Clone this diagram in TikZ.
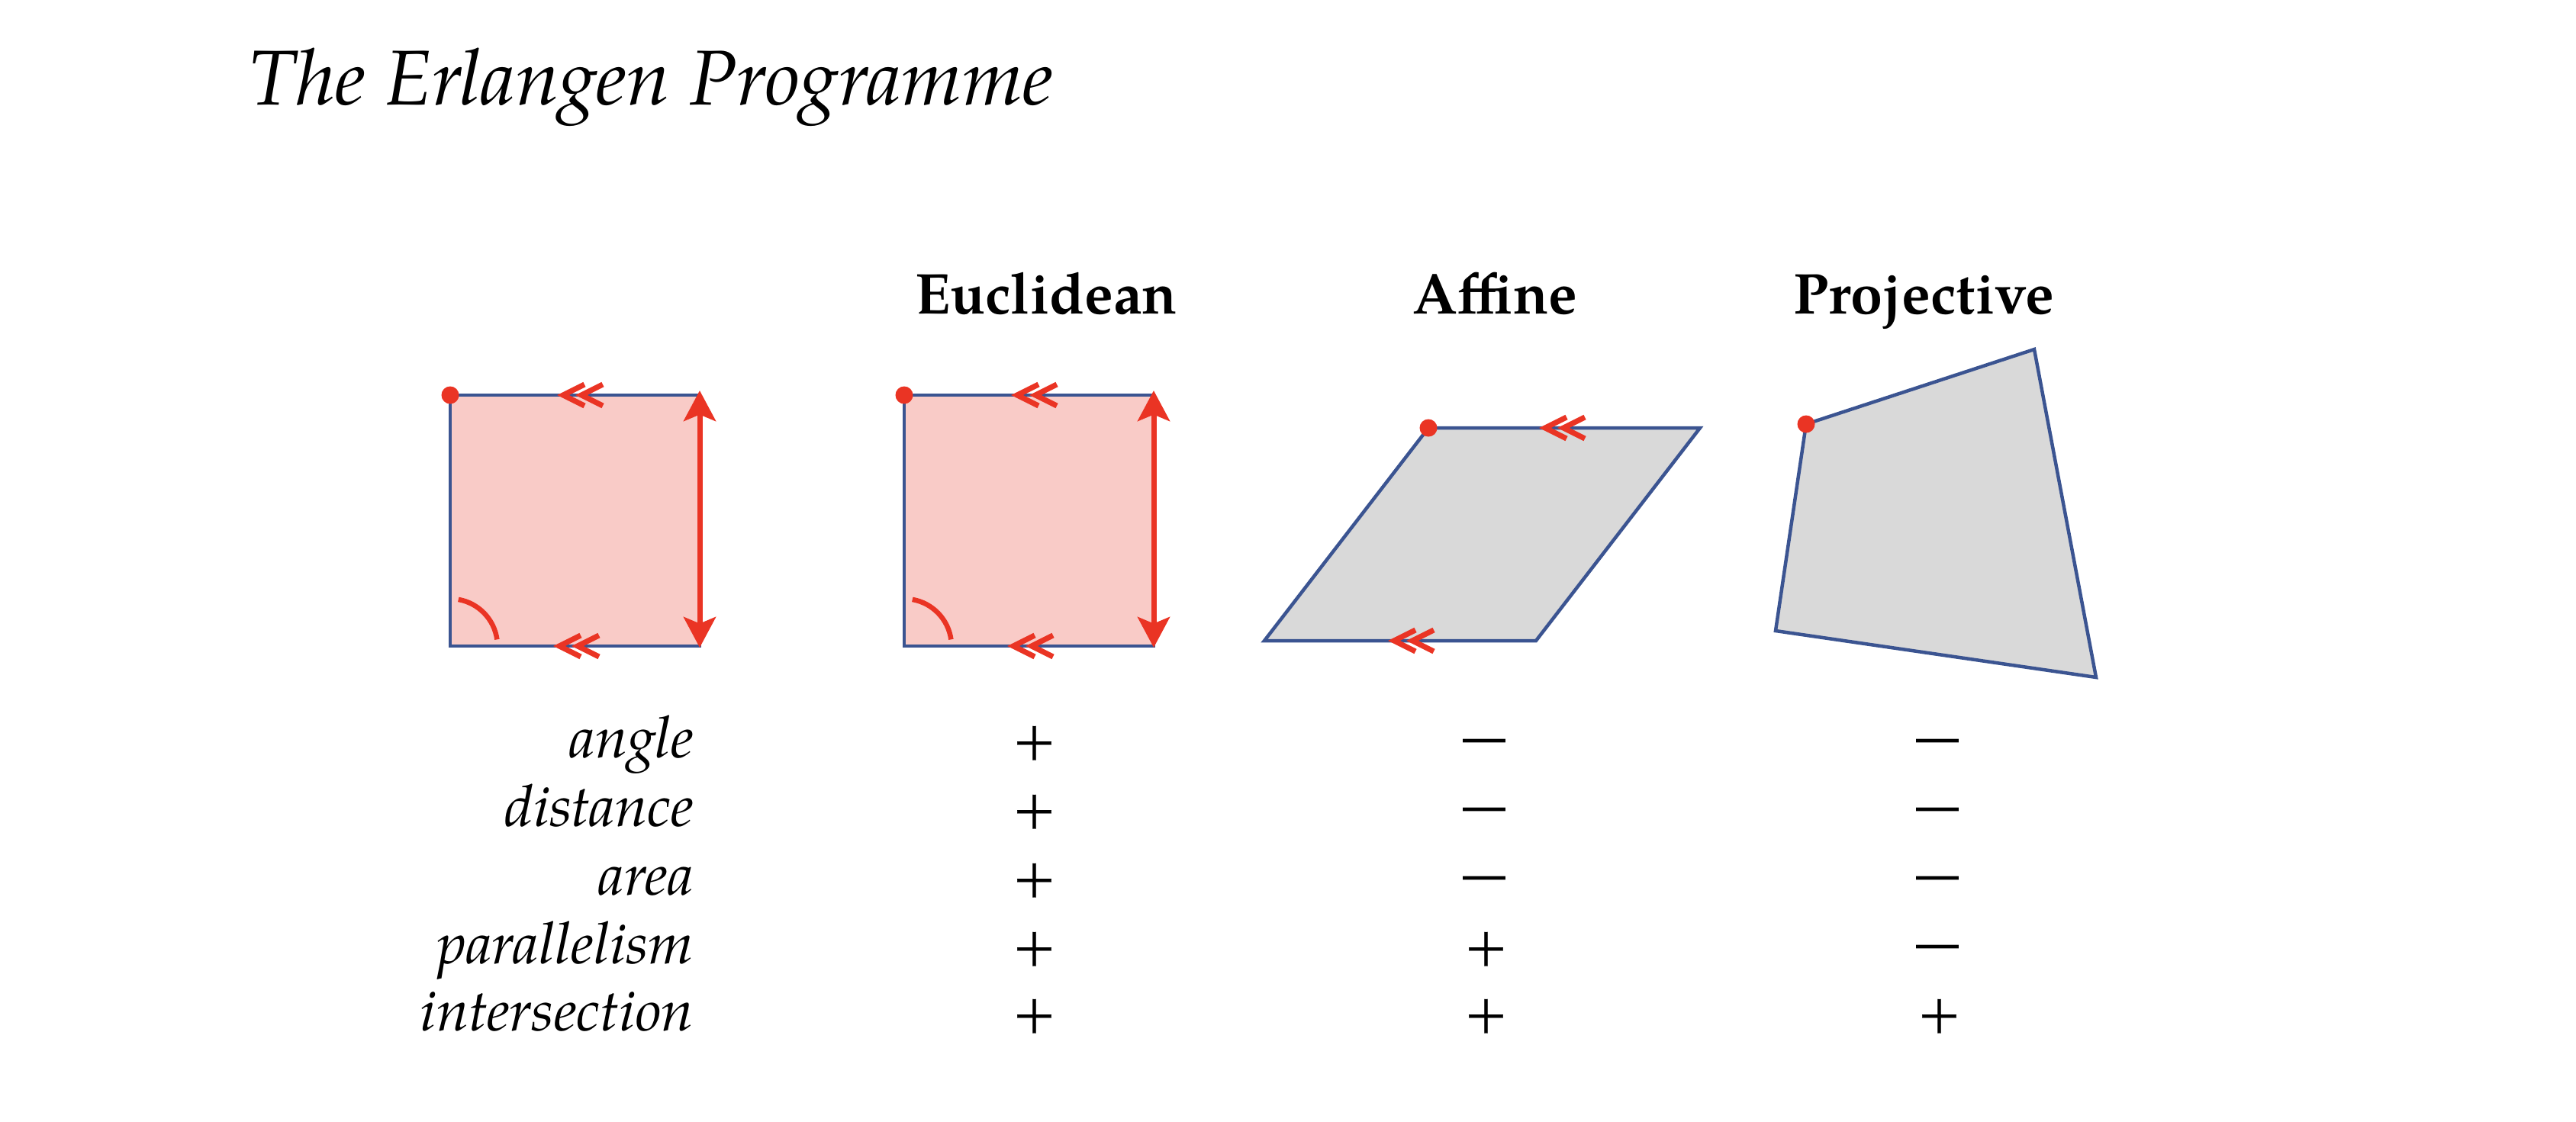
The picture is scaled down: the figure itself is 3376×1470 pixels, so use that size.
\documentclass[tikz,border=0pt]{standalone}
\usepackage{fontspec}
\setmainfont{TeX Gyre Pagella}
\usetikzlibrary{arrows.meta}
\definecolor{edgeblue}{RGB}{59,84,145}
\definecolor{mkred}{RGB}{234,52,36}
\definecolor{pinkfill}{RGB}{249,203,199}
\definecolor{grayfill}{RGB}{217,217,217}
\tikzset{
  shapeedge/.style={draw=edgeblue,line width=0.9pt,line join=miter},
  chevline/.style={draw=mkred,line width=1.4pt},
  dblarrow/.style={draw=mkred,line width=1.4pt,
    {Stealth[length=8pt,width=8.4pt,inset=1.7pt]}-{Stealth[length=8pt,width=8.4pt,inset=1.7pt]}},
  anglearc/.style={draw=mkred,line width=1.3pt},
  dchev/.pic={
    \draw[chevline] (28,-14) -- (0,0) -- (28,14);
    \draw[chevline] (52,-14) -- (24,0) -- (52,14);
  },
  titletext/.style={anchor=base west,inner sep=0,font=\fontsize{20.4}{24}\selectfont\itshape},
  hdr/.style={anchor=base,inner sep=0,font=\fontsize{15.1}{18}\selectfont\bfseries},
  lbl/.style={anchor=base east,inner sep=0,font=\fontsize{15.2}{18}\selectfont\itshape},
  plusm/.style={anchor=base,inner sep=0,font=\fontsize{15}{18}\selectfont},
  minusm/.style={anchor=base,inner sep=0,font=\fontsize{11.2}{14}\selectfont\bfseries},
}
\begin{document}
\begin{tikzpicture}[x=0.2pt,y=-0.2pt]
\useasboundingbox (0,0) rectangle (3376,1470);

% title
\node[titletext] (title) at (325,137) {The Erlangen Programme};

% headers
\node[hdr] (heuc) at (1371,411) {Euclidean};
\node[hdr] (haff) at (1959,411) {Affine};
\node[hdr] (hproj) at (2521,411) {Projective};

% square 1
\draw[shapeedge,fill=pinkfill] (590,518) rectangle (917,847);
\draw[anglearc,shift={(590,847)}] (12.28pt,1.73pt) arc[start angle=8,end angle=80,radius=12.4pt];
\pic at (738,518) {dchev};
\pic at (733,847) {dchev};
\draw[dblarrow] (917,512) -- (917,849);
\fill[mkred] (590,518) circle[radius=2.3pt];

% square 2
\draw[shapeedge,fill=pinkfill] (1185,518) rectangle (1512,847);
\draw[anglearc,shift={(1185,847)}] (12.28pt,1.73pt) arc[start angle=8,end angle=80,radius=12.4pt];
\pic at (1333,518) {dchev};
\pic at (1328,847) {dchev};
\draw[dblarrow] (1512,512) -- (1512,849);
\fill[mkred] (1185,518) circle[radius=2.3pt];

% parallelogram
\draw[shapeedge,fill=grayfill] (1872,561) -- (2228,561) -- (2013,840) -- (1657,840) -- cycle;
\pic at (2025,561) {dchev};
\pic at (1827,840) {dchev};
\fill[mkred] (1872,561) circle[radius=2.3pt];

% projective quadrilateral
\draw[shapeedge,fill=grayfill] (2367,556) -- (2666,458) -- (2747,888) -- (2327,827) -- cycle;
\fill[mkred] (2367,556) circle[radius=2.3pt];

% row labels
\node[lbl] (langle) at (910,993) {angle};
\node[lbl] (ldist) at (910,1083) {distance};
\node[lbl] (larea) at (910,1173) {area};
\node[lbl] (lpar) at (910,1263) {parallelism};
\node[lbl] (lint) at (910,1351) {intersection};

% Euclidean column
\node[plusm] (e1) at (1356,993) {+};
\node[plusm] (e2) at (1356,1083) {+};
\node[plusm] (e3) at (1356,1173) {+};
\node[plusm] (e4) at (1356,1263) {+};
\node[plusm] (e5) at (1356,1351) {+};

% Affine column
\node[minusm] (a1) at (1945,985) {—};
\node[minusm] (a2) at (1945,1075) {—};
\node[minusm] (a3) at (1945,1165) {—};
\node[plusm] (a4) at (1948,1263) {+};
\node[plusm] (a5) at (1948,1351) {+};

% Projective column
\node[minusm] (p1) at (2539,985) {—};
\node[minusm] (p2) at (2539,1075) {—};
\node[minusm] (p3) at (2539,1165) {—};
\node[minusm] (p4) at (2539,1255) {—};
\node[plusm] (p5) at (2542,1351) {+};
\end{tikzpicture}
\end{document}
